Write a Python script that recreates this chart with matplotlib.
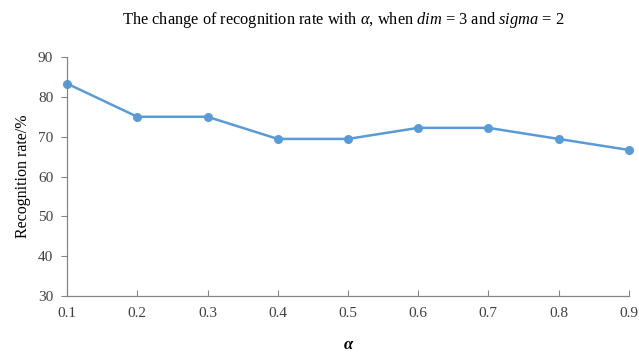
import numpy as np
import matplotlib
matplotlib.use('Agg')
import matplotlib.pyplot as plt

plt.rcParams['font.family'] = ['Liberation Serif', 'DejaVu Serif']
plt.rcParams['mathtext.fontset'] = 'custom'
plt.rcParams['mathtext.rm'] = 'Liberation Serif'
plt.rcParams['mathtext.it'] = 'Liberation Serif:italic'
plt.rcParams['mathtext.bf'] = 'Liberation Serif:bold'

alpha = [0.1, 0.2, 0.3, 0.4, 0.5, 0.6, 0.7, 0.8, 0.9]
rate = [83.33, 75.0, 75.0, 69.44, 69.44, 72.22, 72.22, 69.44, 66.67]
xticks = [0.1, 0.2, 0.3, 0.4, 0.5, 0.6, 0.7, 0.8, 0.9]
yticks = [30, 40, 50, 60, 70, 80, 90]

fig = plt.figure(figsize=(6.39, 3.52), dpi=100)
ax = fig.add_axes([0.105, 0.159, 0.879, 0.679])

ax.plot(alpha, rate, color='#5b9bd5', lw=1.8, marker='o', ms=5.5, clip_on=False)

ax.set_xlim(0.1, 0.9)
ax.set_ylim(30, 90)
ax.set_xticks(xticks)
ax.set_xticklabels(['%.1f' % v for v in xticks])
ax.set_yticks(yticks)

for s in ['top', 'right']:
    ax.spines[s].set_visible(False)
for s in ['left', 'bottom']:
    ax.spines[s].set_color('#868686')
    ax.spines[s].set_linewidth(0.9)

ax.tick_params(axis='x', direction='in', length=4, color='#868686', labelsize=11, pad=8, labelcolor='#404040')
ax.tick_params(axis='y', direction='out', length=4, color='#868686', labelsize=11, pad=6, labelcolor='#404040')

ax.set_ylabel('Recognition rate/%', fontsize=11.5, labelpad=5)
ax.set_xlabel('α', fontsize=12, fontweight='bold', fontstyle='italic', labelpad=12)

fig.text(0.537, 0.943, r'The change of recognition rate with $\it{\alpha}$, when $\it{dim}$ = 3 and $\it{sigma}$ = 2',
         ha='center', va='center', fontsize=11.8)

fig.savefig('out.png', dpi=100)
